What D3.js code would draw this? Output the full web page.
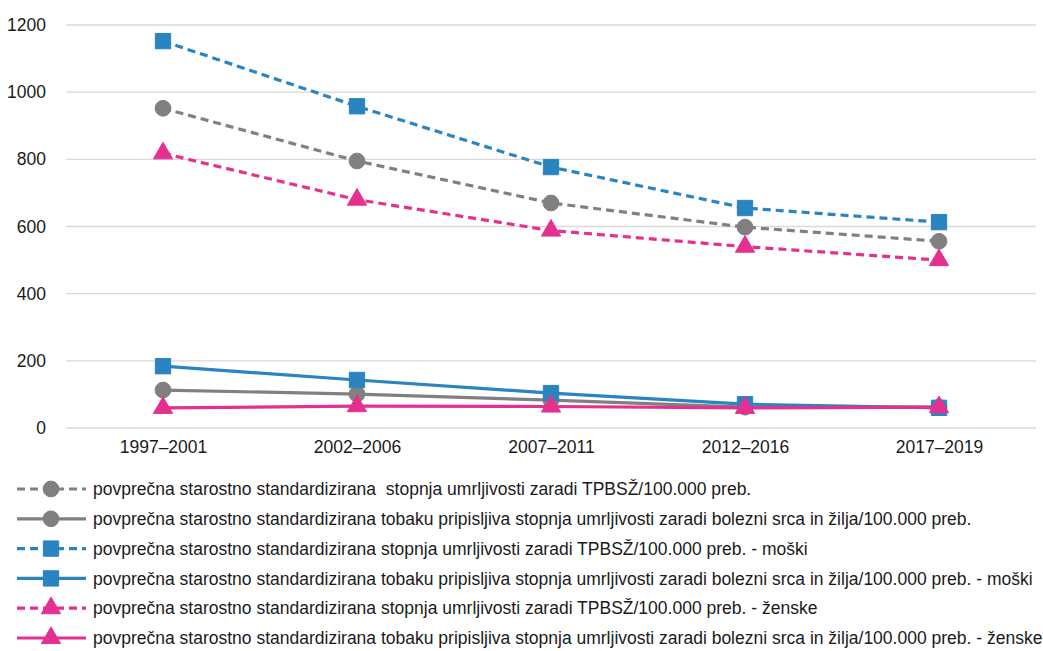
<!DOCTYPE html>
<html><head><meta charset="utf-8">
<script src="https://cdn.jsdelivr.net/npm/d3@7"></script>
<style>body{margin:0;background:#fff}svg{display:block}text{font-family:"Liberation Sans",Arial,sans-serif;fill:#1a1a1a}</style>
</head><body>
<svg id="c" width="1043" height="651"></svg>
<script>
const categories = ["1997–2001","2002–2006","2007–2011","2012–2016","2017–2019"];
const yTicks = [0,200,400,600,800,1000,1200];
const grayDashed = [952,795,670,598,556];
const grayStrong = [113,101,83,62,62];
const blueDashed = [1152,958,777,655,613];
const blueSolid = [184,143,104,71,60];
const pinkDashed = [818,680,588,540,500];
const pinkSolid = [60,65,64,60,62];
const seriesNames = [
  "povprečna starostno standardizirana  stopnja umrljivosti zaradi TPBSŽ/100.000 preb.",
  "povprečna starostno standardizirana tobaku pripisljiva stopnja umrljivosti zaradi bolezni srca in žilja/100.000 preb.",
  "povprečna starostno standardizirana stopnja umrljivosti zaradi TPBSŽ/100.000 preb. - moški",
  "povprečna starostno standardizirana tobaku pripisljiva stopnja umrljivosti zaradi bolezni srca in žilja/100.000 preb. - moški",
  "povprečna starostno standardizirana stopnja umrljivosti zaradi TPBSŽ/100.000 preb. - ženske",
  "povprečna starostno standardizirana tobaku pripisljiva stopnja umrljivosti zaradi bolezni srca in žilja/100.000 preb. - ženske"
];
const gray="#808080", blue="#2984BF", pink="#E4318F";
const series = [
  {name:seriesNames[0], values:grayDashed, color:gray, dashed:true, sym:d3.symbolCircle},
  {name:seriesNames[1], values:grayStrong, color:gray, dashed:false, sym:d3.symbolCircle},
  {name:seriesNames[2], values:blueDashed, color:blue, dashed:true, sym:d3.symbolSquare},
  {name:seriesNames[3], values:blueSolid, color:blue, dashed:false, sym:d3.symbolSquare},
  {name:seriesNames[4], values:pinkDashed, color:pink, dashed:true, sym:d3.symbolTriangle},
  {name:seriesNames[5], values:pinkSolid, color:pink, dashed:false, sym:d3.symbolTriangle}
];
const FS = 17.5;
const svg = d3.select("#c");
const pLeft=66, pRight=1036, pTop=25, pBottom=428;
const x = d3.scalePoint().domain(categories).range([pLeft,pRight]).padding(0.5);
const y = d3.scaleLinear().domain([0,1200]).range([pBottom,pTop]);

svg.append("g").selectAll("line").data(yTicks).join("line")
  .attr("x1",pLeft).attr("x2",pRight).attr("y1",d=>y(d)).attr("y2",d=>y(d))
  .attr("stroke","#d9d9d9").attr("stroke-width",1.3);

const yAxis = svg.append("g").attr("transform",`translate(${pLeft},0)`)
  .call(d3.axisLeft(y).tickValues(yTicks).tickFormat(d3.format("d")).tickSize(0).tickPadding(20));
yAxis.select(".domain").remove();
yAxis.selectAll("text").style("font-size",FS+"px").style("font-family","'Liberation Sans', Arial, sans-serif").style("fill","#1a1a1a");

const xAxis = svg.append("g").attr("transform",`translate(0,${pBottom})`)
  .call(d3.axisBottom(x).tickSize(0).tickPadding(13));
xAxis.select(".domain").remove();
xAxis.selectAll("text").style("font-size",FS+"px").style("font-family","'Liberation Sans', Arial, sans-serif").style("fill","#1a1a1a");

function symSize(sym){ return sym===d3.symbolCircle?195:(sym===d3.symbolSquare?235:160); }

const line = d3.line().x((d,i)=>x(categories[i])).y(d=>y(d));
const order=[0,2,4,1,3,5];
order.forEach(k=>{
  const s=series[k];
  const g=svg.append("g");
  g.append("path").attr("d",line(s.values)).attr("fill","none")
   .attr("stroke",s.color).attr("stroke-width",3.2)
   .attr("stroke-dasharray",s.dashed?"8,5":null);
  g.selectAll("path.m").data(s.values).join("path").attr("class","m")
   .attr("transform",(d,i)=>`translate(${x(categories[i])},${y(d)})`)
   .attr("d",d3.symbol().type(s.sym).size(symSize(s.sym)))
   .attr("fill",s.color).attr("stroke",s.color).attr("stroke-width",1).attr("stroke-linejoin","round");
});

const lg = svg.append("g");
series.forEach((s,i)=>{
  const ly = 489 + i*29.8;
  const g = lg.append("g").attr("transform",`translate(0,${ly})`);
  g.append("line").attr("x1",17).attr("x2",86).attr("y1",0).attr("y2",0)
   .attr("stroke",s.color).attr("stroke-width",3.2)
   .attr("stroke-dasharray",s.dashed?"8,5":null);
  g.append("path").attr("transform","translate(51,0)")
   .attr("d",d3.symbol().type(s.sym).size(symSize(s.sym)))
   .attr("fill",s.color).attr("stroke",s.color).attr("stroke-width",1).attr("stroke-linejoin","round");
  g.append("text").attr("x",93).attr("y",0).attr("dy","0.35em")
   .style("font-size",FS+"px").style("white-space","pre")
   .text(s.name);
});
</script>
</body></html>
